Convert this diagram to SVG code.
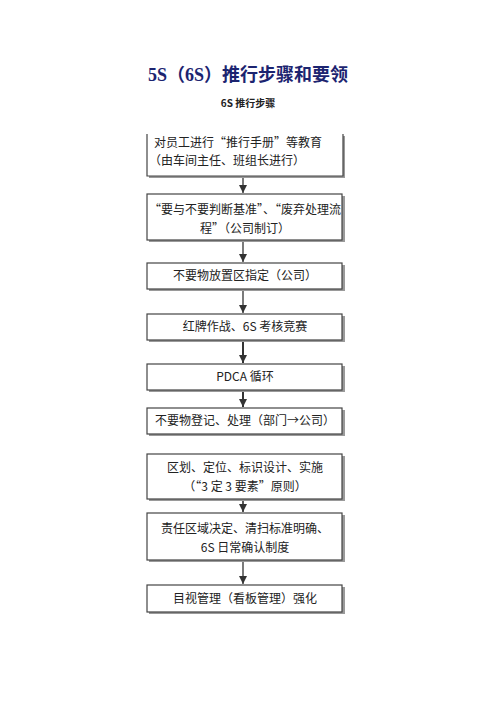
<svg xmlns="http://www.w3.org/2000/svg" width="496" height="702" viewBox="0 0 496 702">
<defs>
<marker id="ah" markerWidth="10" markerHeight="10" refX="8" refY="4" orient="auto" markerUnits="userSpaceOnUse">
<path d="M0,0 L8,4 L0,8 Z" fill="#333"/>
</marker>
</defs>
<style>
.box{fill:#fff;stroke:#444;stroke-width:1.2}
.sh{fill:#9a9a9a}
.t{font-family:"Noto Sans CJK SC","Liberation Sans",sans-serif;font-size:12px;fill:#222}
.c{text-anchor:middle}
.con line{stroke:#333;stroke-width:1.3}
</style>
<rect width="496" height="702" fill="#fff"/>
<text x="248" y="81" text-anchor="middle" font-family="Liberation Serif,'Noto Sans CJK SC',serif" font-size="18" font-weight="bold" fill="#1c2470">5S（6S）推行步骤和要领</text>
<text x="248" y="107" text-anchor="middle" font-family="'Noto Sans CJK SC',sans-serif" font-size="10" font-weight="bold" fill="#222">6S 推行步骤</text>

<g id="connectors" class="con">
<line x1="243" y1="178" x2="243" y2="193" marker-end="url(#ah)"/>
<line x1="243" y1="242" x2="243" y2="262" marker-end="url(#ah)"/>
<line x1="243" y1="291" x2="243" y2="313" marker-end="url(#ah)"/>
<line x1="243" y1="342" x2="243" y2="363" marker-end="url(#ah)" style="stroke-width:2"/>
<line x1="243" y1="392" x2="243" y2="407" marker-end="url(#ah)" style="stroke-width:2"/>
<line x1="243" y1="501" x2="243" y2="512" marker-end="url(#ah)" style="stroke-width:1.6"/>
<line x1="243" y1="562" x2="243" y2="584" marker-end="url(#ah)"/>
</g>

<g id="n1">
<rect class="sh" x="149" y="176" width="196" height="2"/>
<rect class="sh" x="343" y="136" width="2" height="42"/>
<path d="M147,134 V176 H343 V134" fill="#fff" stroke="#444" stroke-width="1.2"/>
<text class="t" x="154" y="147">对员工进行“推行手册”等教育</text>
<text class="t" x="149" y="165">（由车间主任、班组长进行）</text>
</g>

<g id="n2">
<rect class="sh" x="149" y="196" width="196" height="46"/>
<rect class="box" x="147" y="194" width="195" height="46"/>
<text class="t c" x="245" y="214">“要与不要判断基准”、“废弃处理流</text>
<text class="t c" x="245" y="233">程”（公司制订）</text>
</g>

<g id="n3">
<rect class="sh" x="149" y="265" width="196" height="26"/>
<rect class="box" x="147" y="263" width="195" height="26"/>
<text class="t c" x="245" y="280">不要物放置区指定（公司）</text>
</g>

<g id="n4">
<rect class="sh" x="149" y="316" width="196" height="26"/>
<rect class="box" x="147" y="314" width="195" height="26"/>
<text class="t c" x="245" y="331">红牌作战、6S 考核竞赛</text>
</g>

<g id="n5">
<rect class="sh" x="149" y="366" width="196" height="26"/>
<rect class="box" x="147" y="364" width="195" height="26"/>
<text class="t c" x="245" y="381">PDCA 循环</text>
</g>

<g id="n6">
<rect class="sh" x="149" y="410" width="196" height="26"/>
<rect class="box" x="147" y="408" width="195" height="26"/>
<text class="t c" x="245" y="425">不要物登记、处理（部门→公司）</text>
</g>

<g id="n7">
<rect class="sh" x="149" y="456" width="196" height="45"/>
<rect class="box" x="147" y="454" width="195" height="45"/>
<text class="t c" x="245" y="472">区划、定位、标识设计、实施</text>
<text class="t c" x="245" y="491">（“3 定 3 要素”原则）</text>
</g>

<g id="n8">
<rect class="sh" x="149" y="515" width="196" height="47"/>
<rect class="box" x="147" y="513" width="195" height="47"/>
<text class="t c" x="245" y="533">责任区域决定、清扫标准明确、</text>
<text class="t c" x="245" y="552">6S 日常确认制度</text>
</g>

<g id="n9">
<rect class="sh" x="149" y="587" width="196" height="27"/>
<rect class="box" x="147" y="585" width="195" height="27"/>
<text class="t c" x="245" y="603">目视管理（看板管理）强化</text>
</g>
</svg>
